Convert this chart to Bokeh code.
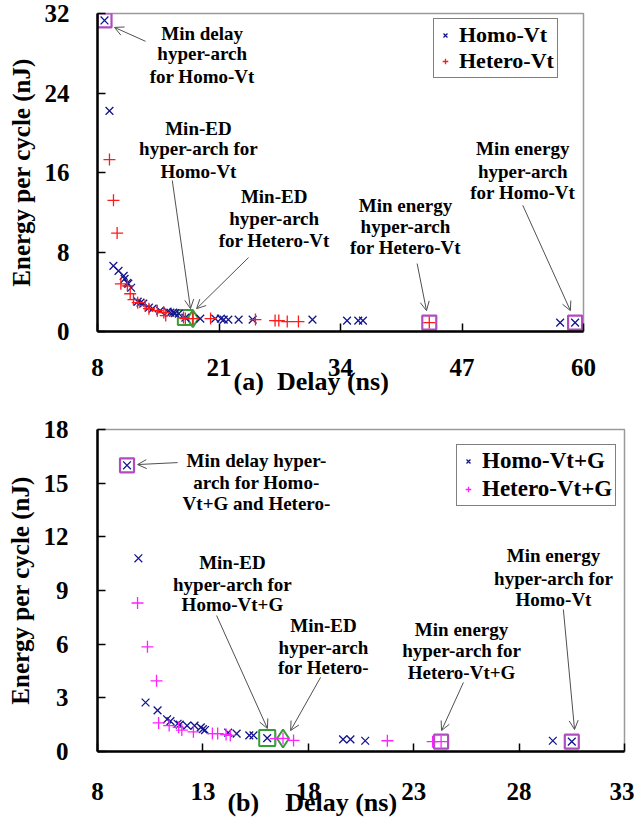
from bokeh.plotting import figure
from bokeh.layouts import column
from bokeh.models import Label, Arrow, OpenHead, FixedTicker, Range1d
from bokeh.embed import file_html
from bokeh.resources import INLINE

FONT = "Liberation Serif"
NAVY = "#15158f"
RED = "#ff1a1a"
MAGENTA = "#ff22ff"
PURPLE = "#b04cc0"
GREEN = "#33a033"
NB = "\u00a0"

# ---------------- data: (a) ----------------
homo_x = [8.75, 9.28, 9.7, 10.25, 10.8, 10.9, 11.2, 11.3, 11.6, 12.3, 12.6, 12.9, 13.5, 13.9,
          14.7, 15.5, 15.8, 16.1, 16.3, 16.7, 17.4, 19.0, 20.6, 21.2, 21.5, 22.0, 23.1,
          24.6, 31.0, 34.7, 35.9, 36.4, 57.5, 59.1]
homo_y = [31.3, 22.2, 6.6, 6.1, 5.6, 5.3, 4.9, 4.8, 4.4, 3.0, 2.9, 2.8, 2.4, 2.3,
          2.1, 2.0, 1.9, 1.9, 1.85, 1.8, 1.4, 1.3, 1.3, 1.3, 1.2, 1.2, 1.2,
          1.2, 1.2, 1.1, 1.1, 1.1, 0.9, 0.9]
hetero_x = [9.28, 9.71, 10.1, 10.5, 11.2, 11.5, 11.85, 12.3, 13.1, 13.5, 14.4, 15.1, 15.3,
            17.2, 17.4, 18.2, 20.1, 24.9, 27.0, 27.4, 28.3, 29.5, 43.5]
hetero_y = [17.3, 13.2, 9.9, 4.8, 4.6, 3.8, 3.2, 2.9, 2.6, 2.3, 2.1, 1.9, 1.6,
            1.4, 1.3, 1.3, 1.3, 1.2, 1.1, 1.1, 1.0, 1.0, 0.9]
a_xticks = [8, 21, 34, 47, 60]
a_yticks = [0, 8, 16, 24, 32]
a_homo_box = [0, 33]      # min delay, min energy
a_homo_ed = [20]          # min ED
a_hetero_box = [22]       # min energy
a_hetero_ed = [15]        # min ED

# ---------------- data: (b) ----------------
homog_x = [9.4, 9.94, 10.28, 10.85, 11.3, 11.46, 11.8, 11.9, 12.25, 12.6, 12.9, 13.0, 13.1,
           14.2, 14.6, 15.2, 15.4, 16.05, 19.65, 20.0, 20.7, 29.6, 30.5]
homog_y = [16.0, 10.8, 2.74, 2.3, 1.8, 1.7, 1.55, 1.5, 1.45, 1.45, 1.35, 1.25, 1.2,
           1.05, 1.0, 0.9, 0.9, 0.75, 0.68, 0.68, 0.6, 0.6, 0.55]
heterog_x = [9.9, 10.37, 10.8, 10.9, 11.4, 11.85, 12.0, 12.55, 13.45, 13.7, 14.1, 14.3,
             16.45, 16.8, 17.3, 21.75, 23.9, 24.3]
heterog_y = [8.3, 5.85, 3.95, 1.6, 1.45, 1.35, 1.2, 1.1, 1.0, 1.0, 0.95, 0.9,
             0.72, 0.73, 0.62, 0.6, 0.55, 0.55]
b_xticks = [8, 13, 18, 23, 28, 33]
b_yticks = [0, 3, 6, 9, 12, 15, 18]
b_homo_box = [0, 22]
b_homo_ed = [17]
b_hetero_box = [17]
b_hetero_ed = [13]

# annotations: (center x, [(text, y), ...], arrow start, arrow end)
a_notes = [
    (19.2, [("Min delay", 30.0), ("hyper-arch", 28.0), ("for Homo-Vt", 25.65)], (13.14, 29.2), (9.82, 30.6)),
    (18.8, [("Min-ED", 20.4), ("hyper-arch for", 18.4), ("Homo-Vt", 16.1)], (16.0, 15.2), (17.95, 2.3)),
    (26.9, [("Min-ED", 13.6), ("hyper-arch", 11.4), ("for Hetero-Vt", 9.15)], (24.16, 7.44), (18.6, 2.3)),
    (40.95, [("Min energy", 12.7), ("hyper-arch", 10.56), ("for Hetero-Vt", 8.45)], (42.2, 6.84), (43.2, 2.1)),
    (53.5, [("Min energy", 18.4), ("hyper-arch", 16.1), ("for Homo-Vt", 14.0)], (53.5, 12.7), (58.6, 2.1)),
]
b_notes = [
    (15.54, [("Min delay hyper-", 16.27), ("arch for Homo-", 15.04), ("Vt+G and Hetero-", 13.86)], (11.8, 16.15), (9.9, 16.04)),
    (14.4, [("Min-ED", 10.56), ("hyper-arch for", 9.33), ("Homo-Vt+G", 8.22)], (13.65, 7.6), (16.06, 1.29)),
    (18.72, [("Min-ED", 7.04), ("hyper-arch", 5.81), ("for Hetero-", 4.7)], (18.58, 4.14), (17.16, 1.17)),
    (25.27, [("Min energy", 6.82), ("hyper-arch for", 5.65), ("Hetero-Vt+G", 4.42)], (25.36, 3.86), (24.32, 1.17)),
    (29.63, [("Min energy", 10.96), ("hyper-arch for", 9.67), ("Homo-Vt", 8.5)], (30.1, 7.94), (30.63, 1.23)),
]


def make_fig(width, height, xr, yr, borders, xticks, yticks, xstand, ystand, xlabel, xlstand):
    p = figure(width=width, height=height, x_range=Range1d(*xr), y_range=Range1d(*yr),
               output_backend="svg", toolbar_location=None,
               min_border_left=borders[0], min_border_right=borders[1],
               min_border_top=borders[2], min_border_bottom=borders[3])
    if "frame_align" in p.properties():
        p.frame_align = False
    p.xgrid.visible = False
    p.ygrid.visible = False
    p.outline_line_color = "#9a9a9a"
    p.outline_line_width = 1.5
    p.background_fill_color = "white"
    p.border_fill_color = "white"
    for ax in (p.xaxis[0], p.yaxis[0]):
        ax.axis_line_width = 2.5
        ax.axis_line_color = "black"
        ax.major_tick_in = 8
        ax.major_tick_out = 0
        ax.major_tick_line_width = 1.5
        ax.major_tick_line_color = "black"
        ax.minor_tick_line_color = None
        ax.major_label_text_font = FONT
        ax.major_label_text_font_style = "bold"
        ax.major_label_text_font_size = "25px"
        ax.major_label_text_color = "black"
        ax.axis_label_text_font = FONT
        ax.axis_label_text_font_style = "bold"
        ax.axis_label_text_color = "black"
    p.xaxis.ticker = FixedTicker(ticks=xticks)
    p.yaxis.ticker = FixedTicker(ticks=yticks)
    p.xaxis.major_label_standoff = xstand
    p.yaxis.major_label_standoff = ystand
    p.yaxis.axis_label = "Energy per cycle (nJ)"
    p.yaxis.axis_label_text_font_size = "25px"
    p.yaxis.axis_label_standoff = 7
    p.xaxis.axis_label = xlabel
    p.xaxis.axis_label_text_font_size = "26px"
    p.xaxis.axis_label_standoff = xlstand
    return p


def add_notes(p, notes):
    for cx, lines, st, en in notes:
        for txt, y in lines:
            p.add_layout(Label(x=cx, y=y, text=txt, text_align="center", text_baseline="middle",
                               text_font=FONT, text_font_style="bold", text_font_size="19px",
                               text_color="black"))
        p.add_layout(Arrow(end=OpenHead(size=9, line_color="#505050", line_width=1),
                           x_start=st[0], y_start=st[1], x_end=en[0], y_end=en[1],
                           line_color="#505050", line_width=1))


def style_legend(p, loc, spacing, size, padding):
    lg = p.legend[0]
    lg.location = loc
    lg.label_text_font = FONT
    lg.label_text_font_style = "bold"
    lg.label_text_font_size = size
    lg.label_text_color = "black"
    lg.border_line_color = "black"
    lg.border_line_width = 1.2
    lg.background_fill_alpha = 1
    lg.padding = padding
    lg.spacing = spacing
    lg.margin = 0
    lg.glyph_width = 16
    lg.glyph_height = 14
    lg.label_height = 14
    lg.label_standoff = 6


# ---------------- (a) ----------------
a_label = "(a)" + NB * 2 + "Delay (ns)" + NB * 9
p1 = make_fig(634, 406, (8, 60), (0, 32), (97, 51, 13, 75), a_xticks, a_yticks, 27, 28, a_label, -12)
p1.scatter([homo_x[i] for i in a_homo_box], [homo_y[i] for i in a_homo_box], marker="square",
           size=14, fill_color=None, line_color=PURPLE, line_width=2.2)
p1.scatter([hetero_x[i] for i in a_hetero_box], [hetero_y[i] for i in a_hetero_box], marker="square",
           size=14, fill_color=None, line_color=PURPLE, line_width=2.2)
p1.scatter([homo_x[i] for i in a_homo_ed], [homo_y[i] for i in a_homo_ed], marker="square",
           size=15, fill_color=None, line_color=GREEN, line_width=2)
p1.scatter([hetero_x[i] for i in a_hetero_ed], [hetero_y[i] for i in a_hetero_ed], marker="diamond",
           size=17, fill_color=None, line_color=GREEN, line_width=2)
p1.scatter(homo_x, homo_y, marker="x", size=11, line_color=NAVY, line_width=1.3, legend_label="Homo-Vt")
p1.scatter(hetero_x, hetero_y, marker="cross", size=12, line_color=RED, line_width=1.3, legend_label="Hetero-Vt")
style_legend(p1, (336, 253), 0, "22px", 3)
add_notes(p1, a_notes)

# ---------------- (b) ----------------
b_label = "(b)" + NB * 4 + "Delay (ns)" + NB * 15
p2 = make_fig(634, 421, (8, 33), (0, 18), (97, 10, 23, 76), b_xticks, b_yticks, 31, 29, b_label, -15)
p2.scatter([homog_x[i] for i in b_homo_box], [homog_y[i] for i in b_homo_box], marker="square",
           size=14, fill_color=None, line_color=PURPLE, line_width=2.2)
p2.scatter([heterog_x[i] for i in b_hetero_box], [heterog_y[i] for i in b_hetero_box], marker="square",
           size=14, fill_color=None, line_color=PURPLE, line_width=2.2)
p2.scatter([homog_x[i] for i in b_homo_ed], [homog_y[i] for i in b_homo_ed], marker="square",
           size=16, fill_color=None, line_color=GREEN, line_width=2)
p2.scatter([heterog_x[i] for i in b_hetero_ed], [heterog_y[i] for i in b_hetero_ed], marker="diamond",
           size=18, fill_color=None, line_color=GREEN, line_width=2)
p2.scatter(homog_x, homog_y, marker="x", size=11, line_color=NAVY, line_width=1.3, legend_label="Homo-Vt+G")
p2.scatter(heterog_x, heterog_y, marker="cross", size=12, line_color=MAGENTA, line_width=1.3, legend_label="Hetero-Vt+G")
style_legend(p2, (359, 245), 2, "23px", 3)
add_notes(p2, b_notes)

layout = column(p1, p2, spacing=0)
open("out.html", "w").write(file_html(layout, INLINE))
